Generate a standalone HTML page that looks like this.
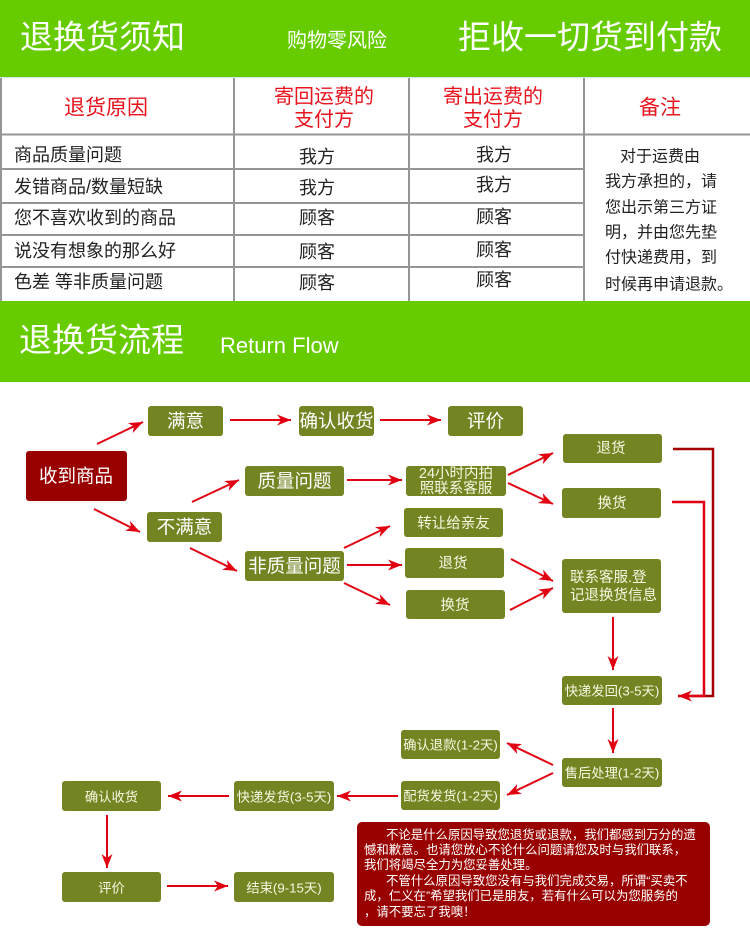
<!DOCTYPE html>
<html><head><meta charset="utf-8">
<style>
html,body{margin:0;padding:0;background:#fff;}
body{width:750px;height:944px;overflow:hidden;}
svg{display:block;font-family:"Liberation Sans","Noto Sans CJK SC",sans-serif;}
</style></head>
<body>
<svg width="750" height="944" viewBox="0 0 750 944" xmlns="http://www.w3.org/2000/svg">
<defs>
<marker id="a" markerWidth="16" markerHeight="12" refX="14" refY="6" orient="auto" markerUnits="userSpaceOnUse"><path d="M0,0.5 L14,6 L0,11.5 L4,6 Z" fill="#e00012"/></marker>
</defs>
<rect x="0" y="0" width="750" height="944" fill="#fff"/>
<!-- header -->
<rect x="0" y="0" width="750" height="77" fill="#66cc00"/>
<g fill="#fff" dominant-baseline="central">
<text x="20" y="37" font-size="33">退换货须知</text>
<text x="287" y="41" font-size="20">购物零风险</text>
<text x="458" y="37" font-size="33">拒收一切货到付款</text>
</g>
<!-- table -->
<line x1="0" y1="77.5" x2="750" y2="77.5" stroke="#cfe6ee" stroke-width="1"/>
<g stroke="#959595" stroke-width="2">
<line x1="0" y1="134.5" x2="750" y2="134.5"/>
<line x1="0" y1="169" x2="584" y2="169"/>
<line x1="0" y1="203" x2="584" y2="203"/>
<line x1="0" y1="235" x2="584" y2="235"/>
<line x1="0" y1="267" x2="584" y2="267"/>
<line x1="234" y1="78" x2="234" y2="301"/>
<line x1="409" y1="78" x2="409" y2="301"/>
<line x1="584" y1="78" x2="584" y2="301"/>
<line x1="1" y1="78" x2="1" y2="301"/>
</g>
<g fill="#e8141e" dominant-baseline="central" text-anchor="middle">
<text x="106" y="108" font-size="21">退货原因</text>
<text x="324" y="97" font-size="20">寄回运费的</text>
<text x="324" y="120" font-size="20">支付方</text>
<text x="493" y="97" font-size="20">寄出运费的</text>
<text x="493" y="120" font-size="20">支付方</text>
<text x="660" y="108" font-size="21">备注</text>
</g>
<g fill="#222" dominant-baseline="central" font-size="18">
<text x="14" y="155">商品质量问题</text>
<text x="14" y="187">发错商品/数量短缺</text>
<text x="14" y="218">您不喜欢收到的商品</text>
<text x="14" y="251">说没有想象的那么好</text>
<text x="14" y="282">色差 等非质量问题</text>
</g>
<g fill="#222" dominant-baseline="central" font-size="18" text-anchor="middle">
<text x="317" y="157">我方</text>
<text x="317" y="188">我方</text>
<text x="317" y="218">顾客</text>
<text x="317" y="252">顾客</text>
<text x="317" y="283">顾客</text>
<text x="494" y="155">我方</text>
<text x="494" y="185">我方</text>
<text x="494" y="217">顾客</text>
<text x="494" y="250">顾客</text>
<text x="494" y="280">顾客</text>
</g>
<g fill="#222" dominant-baseline="central" font-size="16">
<text x="620" y="157">对于运费由</text>
<text x="605" y="182">我方承担的，请</text>
<text x="605" y="208">您出示第三方证</text>
<text x="605" y="233">明，并由您先垫</text>
<text x="605" y="258">付快递费用，到</text>
<text x="605" y="285">时候再申请退款。</text>
</g>
<!-- flow header -->
<rect x="0" y="301" width="750" height="81" fill="#66cc00"/>
<text x="19" y="340" font-size="33" fill="#fff" dominant-baseline="central">退换货流程</text>
<text x="220" y="353" font-size="22" fill="#fff">Return Flow</text>

<!-- boxes -->
<g fill="#738523">
<rect x="148" y="406" width="75" height="30" rx="3"/>
<rect x="299" y="406" width="75" height="30" rx="3"/>
<rect x="448" y="406" width="75" height="30" rx="3"/>
<rect x="245" y="466" width="99" height="30" rx="3"/>
<rect x="147" y="512" width="75" height="30" rx="3"/>
<rect x="245" y="551" width="99" height="30" rx="3"/>
<rect x="406" y="466" width="100" height="30" rx="3"/>
<rect x="563" y="434" width="99" height="29" rx="3"/>
<rect x="562" y="488" width="99" height="30" rx="3"/>
<rect x="404" y="508" width="99" height="29" rx="3"/>
<rect x="405" y="548" width="99" height="30" rx="3"/>
<rect x="406" y="590" width="99" height="29" rx="3"/>
<rect x="562" y="559" width="99" height="54" rx="3"/>
<rect x="562" y="676" width="100" height="29" rx="3"/>
<rect x="401" y="730" width="99" height="29" rx="3"/>
<rect x="562" y="758" width="100" height="29" rx="3"/>
<rect x="401" y="781" width="99" height="29" rx="3"/>
<rect x="234" y="781" width="100" height="30" rx="3"/>
<rect x="62" y="781" width="99" height="30" rx="3"/>
<rect x="62" y="872" width="99" height="30" rx="3"/>
<rect x="234" y="872" width="100" height="30" rx="3"/>
</g>
<rect x="26" y="451" width="101" height="50" rx="3" fill="#990000"/>
<rect x="357" y="822" width="353" height="104" rx="5" fill="#990000"/>

<!-- box text -->
<g fill="#fff" dominant-baseline="central" text-anchor="middle" font-size="18.5">
<text x="185.5" y="421">满意</text>
<text x="336.5" y="421">确认收货</text>
<text x="485.5" y="421">评价</text>
<text x="76" y="476">收到商品</text>
<text x="294.5" y="481">质量问题</text>
<text x="184.5" y="527">不满意</text>
<text x="294.5" y="566">非质量问题</text>
</g>
<g fill="#f8f6e0" dominant-baseline="central" text-anchor="middle" font-size="14.5">
<text x="456" y="474">24小时内拍</text>
<text x="456" y="489">照联系客服</text>
<text x="611" y="449">退货</text>
<text x="612" y="504">换货</text>
<text x="453.5" y="524">转让给亲友</text>
<text x="453" y="564">退货</text>
<text x="455" y="606">换货</text>
</g>
<g fill="#f8f6e0" dominant-baseline="central" font-size="14.5">
<text x="570" y="578">联系客服.登</text>
<text x="570" y="596">记退换货信息</text>
</g>
<g fill="#f8f6e0" dominant-baseline="central" text-anchor="middle" font-size="13.3">
<text x="612" y="691">快递发回(3-5天)</text>
<text x="612" y="773">售后处理(1-2天)</text>
<text x="450.5" y="745">确认退款(1-2天)</text>
<text x="450.5" y="796">配货发货(1-2天)</text>
<text x="284" y="797">快递发货(3-5天)</text>
<text x="111.5" y="797">确认收货</text>
<text x="111.5" y="888">评价</text>
<text x="284" y="888">结束(9-15天)</text>
</g>

<!-- arrows -->
<g stroke="#e00012" stroke-width="2" fill="none" marker-end="url(#a)">
<line x1="97" y1="444" x2="143" y2="422"/>
<line x1="94" y1="509" x2="140" y2="532"/>
<line x1="230" y1="420" x2="291" y2="420"/>
<line x1="380" y1="420" x2="441" y2="420"/>
<line x1="192" y1="502" x2="239" y2="480"/>
<line x1="190" y1="548" x2="237" y2="571"/>
<line x1="347" y1="480" x2="402" y2="480"/>
<line x1="508" y1="475" x2="553" y2="453"/>
<line x1="508" y1="483" x2="553" y2="504"/>
<line x1="344" y1="548" x2="390" y2="526"/>
<line x1="347" y1="565" x2="402" y2="565"/>
<line x1="344" y1="583" x2="390" y2="605"/>
<line x1="511" y1="559" x2="553" y2="581"/>
<line x1="510" y1="610" x2="553" y2="588"/>
<line x1="613" y1="617" x2="613" y2="670"/>
<line x1="613" y1="708" x2="613" y2="753"/>
<line x1="553" y1="765" x2="507" y2="743"/>
<line x1="553" y1="773" x2="507" y2="795"/>
<line x1="398" y1="796" x2="337" y2="796"/>
<line x1="229" y1="796" x2="168" y2="796"/>
<line x1="107" y1="815" x2="107" y2="868"/>
<line x1="167" y1="886" x2="228" y2="886"/>
</g>
<polyline points="673,449 713,449 713,696 690,696" stroke="#a50000" stroke-width="2.5" fill="none"/>
<polyline points="672,502 704,502 704,696 678,696" stroke="#e00012" stroke-width="2.5" fill="none" marker-end="url(#a)"/>

<!-- message text -->
<g fill="#fff" font-size="12.4" dominant-baseline="central">
<text x="386" y="835">不论是什么原因导致您退货或退款，我们都感到万分的遗</text>
<text x="364" y="850">憾和歉意。也请您放心不论什么问题请您及时与我们联系，</text>
<text x="364" y="865">我们将竭尽全力为您妥善处理。</text>
<text x="386" y="881">不管什么原因导致您没有与我们完成交易，所谓“买卖不</text>
<text x="364" y="896">成，仁义在”希望我们已是朋友，若有什么可以为您服务的</text>
<text x="364" y="912">，请不要忘了我噢！</text>
</g>
</svg>
</body></html>
